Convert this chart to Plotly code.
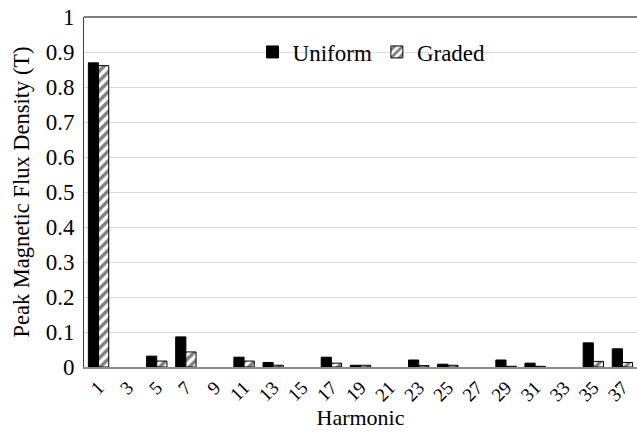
import plotly.graph_objects as go

harmonics = ["1", "3", "5", "7", "9", "11", "13", "15", "17", "19", "21", "23", "25", "27", "29", "31", "33", "35", "37"]
uniform = [0.869, 0, 0.031, 0.086, 0, 0.028, 0.013, 0, 0.028, 0.005, 0, 0.020, 0.008, 0, 0.020, 0.011, 0, 0.069, 0.052]
graded = [0.861, 0, 0.017, 0.043, 0, 0.017, 0.005, 0, 0.011, 0.005, 0, 0.004, 0.005, 0, 0.002, 0.002, 0, 0.016, 0.013]
y_ticks = [0, 0.1, 0.2, 0.3, 0.4, 0.5, 0.6, 0.7, 0.8, 0.9, 1]
y_tick_text = ["0", "0.1", "0.2", "0.3", "0.4", "0.5", "0.6", "0.7", "0.8", "0.9", "1"]

FONT = "Liberation Serif, Times New Roman, serif"

fig = go.Figure()
fig.add_trace(go.Bar(
    x=harmonics, y=uniform, name="Uniform",
    marker=dict(color="black", line=dict(color="black", width=[1 if v else 0 for v in uniform])),
))
fig.add_trace(go.Bar(
    x=harmonics, y=graded, name="Graded",
    marker=dict(color="white", line=dict(color="black", width=[1 if v else 0 for v in graded]),
                pattern=dict(shape="/", fgcolor="black", bgcolor="white", size=7, solidity=0.5)),
))

fig.update_layout(
    width=637, height=436,
    margin=dict(l=84, r=0, t=17, b=69),
    paper_bgcolor="white", plot_bgcolor="white",
    font=dict(family=FONT, size=23, color="black"),
    barmode="group", bargap=0.3, bargroupgap=0,
    showlegend=True,
    legend=dict(orientation="h", x=0.52, xanchor="center", y=0.9, yanchor="middle",
                bgcolor="rgba(0,0,0,0)", font=dict(family=FONT, size=23),
                itemwidth=30, traceorder="normal"),
    xaxis=dict(
        type="category", tickangle=-45, showgrid=False, automargin=False,
        showline=True, linecolor="#8c8c8c", linewidth=2, ticks="",
        tickfont=dict(family=FONT, size=19),
        title=dict(text="Harmonic", font=dict(family=FONT, size=22), standoff=4),
    ),
    yaxis=dict(
        range=[0, 1], tickvals=y_ticks, ticktext=y_tick_text, automargin=False,
        showgrid=True, gridcolor="#d9d9d9", gridwidth=1,
        showline=True, linecolor="#404040", linewidth=1, ticks="",
        zeroline=False, mirror=False, ticklabelstandoff=4,
        tickfont=dict(family=FONT, size=23),
        title=dict(text="Peak Magnetic Flux Density (T)", font=dict(family=FONT, size=22.5), standoff=9),
    ),
)
fig.add_shape(type="line", xref="paper", yref="paper", x0=0, x1=1, y0=1, y1=1,
              line=dict(color="#7f7f7f", width=2))

fig.write_html("out.html", config={"displayModeBar": False},
               post_script="document.body.style.margin='0';")
